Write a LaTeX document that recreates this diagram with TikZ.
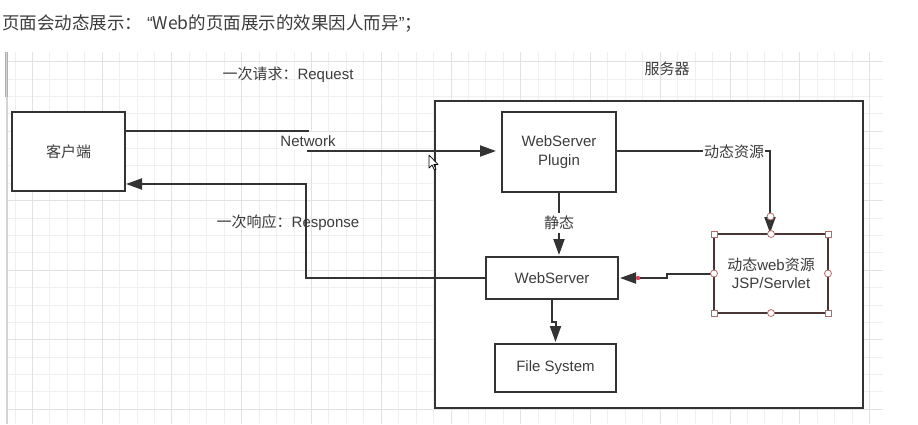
\documentclass[tikz,border=0pt]{standalone}
\usepackage{fontspec}
\setmainfont{Liberation Sans}
\newfontfamily\cjk{Noto Sans CJK SC}
\usetikzlibrary{arrows.meta}
\definecolor{txt}{HTML}{3C3C3C}
\definecolor{ln}{HTML}{333333}
\definecolor{gridminor}{HTML}{EFEFEF}
\definecolor{gridmajor}{HTML}{E2E2E2}
\definecolor{handle}{HTML}{B46A6A}
\definecolor{selborder}{HTML}{4A3535}
\definecolor{reddot}{HTML}{E0405A}
\tikzset{
  boxnode/.style={draw=ln, line width=2pt, fill=white, text=txt, font=\fontsize{15}{18}\selectfont, align=center, inner sep=0pt, outer sep=0pt},
  edge/.style={draw=ln, line width=2pt},
  tip/.style={-{Triangle[length=16pt,width=11pt]}},
  lbl/.style={text=txt, font=\fontsize{15}{18}\selectfont, inner sep=1pt},
  elbl/.style={lbl, fill=white, inner ysep=3.5pt},
  sq/.style={draw=handle, fill=white, line width=0.8pt, minimum size=6pt, inner sep=0pt},
  circ/.style={draw=handle, fill=white, line width=0.8pt, circle, minimum size=7pt, inner sep=0pt},
}
\begin{document}
\begin{tikzpicture}[x=1pt,y=-1pt]
\useasboundingbox (0,0) rectangle (918,424);
\fill[white] (0,0) rectangle (918,424);
% grid
\foreach \k in {0,...,49} {\pgfmathsetmacro\gx{15+\k*17.44}\draw[gridminor, line width=1pt] (\gx,52) -- (\gx,424);}
\foreach \k in {0,...,20} {\pgfmathsetmacro\gy{61.7+\k*17.38}\draw[gridminor, line width=1pt] (7,\gy) -- (883,\gy);}
\foreach \k in {1,5,...,49} {\pgfmathsetmacro\gx{15+\k*17.44}\draw[gridmajor, line width=1pt] (\gx,52) -- (\gx,424);}
\foreach \k in {0,4,...,20} {\pgfmathsetmacro\gy{61.7+\k*17.38}\draw[gridmajor, line width=1pt] (7,\gy) -- (883,\gy);}
\draw[color={rgb,255:red,212;green,212;blue,212}, line width=1.5pt] (7,52) -- (7,424);
\draw[color={rgb,255:red,175;green,175;blue,175}, line width=1pt] (5.5,52) -- (5.5,97);
\draw[color={rgb,255:red,175;green,175;blue,175}, line width=1pt] (7.8,52) -- (7.8,97);
% title
\node[anchor=west, text=txt, inner sep=0pt, font=\fontsize{17.5}{20}\selectfont] (title) at (2,24)
  {{\cjk 页面会动态展示：} “{\cjk Web的页面展示的效果因人而异}”{\cjk ；}};
% labels
\node[lbl] (req) at (288,75) {{\cjk 一次请求：}Request};
\node[lbl] (server label) at (667,69) {\cjk 服务器};
% server box
\node[boxnode, minimum width=428pt, minimum height=307pt] (server) at (649,254.5) {};
% nodes
\node[boxnode, minimum width=113pt, minimum height=79pt] (client) at (68.5,151.5) {\cjk 客户端};
\node[boxnode, minimum width=114pt, minimum height=80pt] (plugin) at (559,152) {WebServer\\[1pt]Plugin};
\node[boxnode, minimum width=132pt, minimum height=42pt] (webserver) at (552,278) {WebServer};
\node[boxnode, minimum width=121pt, minimum height=48pt] (filesys) at (555.5,368) {File System};
\node[boxnode, draw=selborder, minimum width=114pt, minimum height=79pt] (jsp) at (771,273.5) {{\cjk 动态}web{\cjk 资源}\\JSP/Servlet};
% request edge
\coordinate (r1) at (308,131);
\coordinate (r2) at (308,151);
\draw[edge, tip, shorten >=6pt] (client.east |- r1) -- (r1) -- (r2) -- (plugin.west |- r2);
\node[elbl] (network) at (308,141) {Network};
% response edge
\coordinate (resp) at (306,184);
\draw[edge, tip, shorten >=1pt] (webserver.west) -| (resp) -- (client.east |- resp);
\node[lbl] (resplbl) at (288,223) {{\cjk 一次响应：}Response};
% static edge
\draw[edge, tip, shorten >=2pt] (plugin.south) -- (plugin.south |- webserver.north);
\node[elbl] (static) at (559,223) {\cjk 静态};
% dynamic edge
\coordinate (d1) at (770,151);
\draw[edge, tip, shorten >=1pt] (plugin.east |- d1) -- (d1) -- (d1 |- jsp.north);
\node[elbl] (dyn) at (734,152) {\cjk 动态资源};
% jsp -> webserver
\coordinate (j1) at (667,273.5);
\coordinate (j2) at (667,278);
\draw[edge, tip, shorten >=2pt] (jsp.west) -- (j1) -- (j2) -- (webserver.east);
\fill[reddot] (638,278) circle (2.2pt);
% webserver -> file system
\coordinate (f1) at (552,322);
\coordinate (f2) at (555.5,322);
\draw[edge, tip, shorten >=2pt] (webserver.south) -- (f1) -- (f2) -- (filesys.north);
% selection handles
\node[sq] (h1) at (jsp.north west) {};
\node[sq] (h2) at (jsp.north east) {};
\node[sq] (h3) at (jsp.south west) {};
\node[sq] (h4) at (jsp.south east) {};
\node[circ] (h5) at (jsp.north) {};
\node[circ] (h6) at (jsp.south) {};
\node[circ] (h7) at (jsp.west) {};
\node[circ] (h8) at (jsp.east) {};
\node[circ] (h9) at (770.5,216.5) {};
% cursor
\draw[black, fill=white, line width=0.7pt, line join=round] (429,155) -- (429,168) -- (432,165) -- (434.5,170) -- (436,169.3) -- (433.8,164.5) -- (438,164.5) -- cycle;
\end{tikzpicture}
\end{document}
